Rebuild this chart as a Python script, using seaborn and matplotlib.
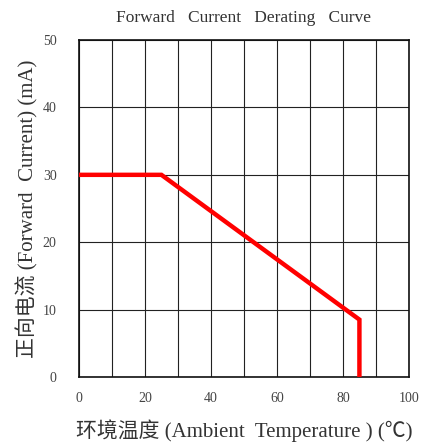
import matplotlib
matplotlib.use("Agg")
import matplotlib.pyplot as plt
import seaborn as sns
import pandas as pd

temperature = [0, 25, 85, 85]
current = [30, 30, 8.5, 0]
x_ticks = [0, 20, 40, 60, 80, 100]
y_ticks = [0, 10, 20, 30, 40, 50]

sns.set_style("white")
plt.rcParams['font.family'] = ['Liberation Serif', 'Noto Sans CJK SC', 'DejaVu Sans']

df = pd.DataFrame({"temp": temperature, "current": current})

fig = plt.figure(figsize=(4.22, 4.46), dpi=100)
ax = fig.add_axes([0.187, 0.155, 0.782, 0.755])

sns.lineplot(data=df, x="temp", y="current", sort=False, estimator=None,
             errorbar=None, color="#ff0000", linewidth=3.2, ax=ax, zorder=5,
             solid_joinstyle="miter")

ax.set_xlim(0, 100)
ax.set_ylim(0, 50)
ax.set_xticks(range(0, 101, 10))
ax.set_yticks(range(0, 51, 10))
ax.grid(True, color="#222222", linewidth=0.8)
ax.set_xticklabels([str(v) if v in x_ticks else "" for v in range(0, 101, 10)])
ax.set_yticklabels([str(v) for v in y_ticks])
ax.tick_params(axis="both", length=0, labelsize=10, colors="#444444")
ax.tick_params(axis="x", pad=11)
ax.tick_params(axis="y", pad=16)
for s in ax.spines.values():
    s.set_visible(True)
    s.set_color("#111111")
    s.set_linewidth(1.2)

ax.set_title("Forward   Current   Derating   Curve", fontsize=12.5, pad=13, color="#333333")
ax.xaxis.set_label_coords(0.48, -0.125)
ax.set_xlabel("环境温度 (Ambient  Temperature ) (℃)", fontsize=15, color="#333333")
ax.set_ylabel("正向电流 (Forward  Current) (mA)", fontsize=15, labelpad=3, color="#333333")

fig.savefig("out.png", dpi=100)
